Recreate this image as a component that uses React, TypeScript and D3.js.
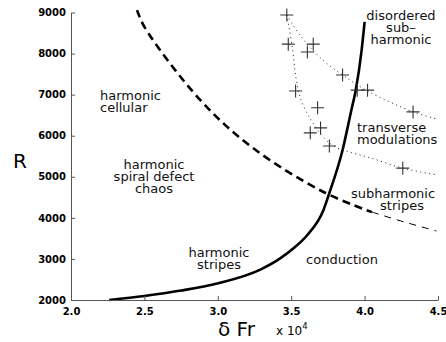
import React, { useEffect, useRef } from "react";
import * as d3 from "d3";

// phase boundaries (delta Fr in units of 1e4, R)
const onsetCurve: [number, number][] = [
  [2.26, 2000], [2.5, 2097], [2.75, 2230], [3.01, 2414], [3.29, 2740], [3.42, 3000],
  [3.52, 3270], [3.61, 3583], [3.72, 4192], [3.76, 4605], [3.85, 5653], [3.91, 6627],
  [3.94, 7114], [3.98, 8088], [4.0, 8770],
];
const dashedThick: [number, number][] = [
  [2.45, 9060], [2.5, 8650], [2.88, 6870], [3.24, 5700], [3.72, 4630], [4.05, 4140],
];
const dashedThin: [number, number][] = [
  [4.05, 4140], [4.27, 3900], [4.49, 3680],
];
const upperGuide: [number, number][] = [
  [3.47, 8940], [3.56, 8450], [3.7, 7890], [3.85, 7480], [4.02, 7090], [4.33, 6580], [4.49, 6410],
];
const lowerGuide: [number, number][] = [
  [3.47, 8940], [3.505, 8210], [3.533, 7410], [3.56, 6940], [3.608, 6550], [3.648, 6310],
  [3.717, 5970], [3.8, 5725], [3.9, 5600], [4.04, 5460], [4.26, 5210], [4.5, 5040],
];
// measured points (crosses)
const measured: [number, number][] = [
  [3.47, 8940], [3.48, 8230], [3.65, 8230], [3.61, 8040], [3.53, 7090], [3.85, 7480],
  [3.95, 7110], [4.02, 7110], [3.68, 6680], [3.7, 6190], [3.63, 6070], [3.76, 5750],
  [4.33, 6580], [4.26, 5210],
];
const xTicks = [2.0, 2.5, 3.0, 3.5, 4.0, 4.5];
const yTicks = [2000, 3000, 4000, 5000, 6000, 7000, 8000, 9000];

// region labels: [text lines, x, first baseline, anchor]
const regionLabels: [string[], number, number, string][] = [
  [["harmonic", "cellular"], 100, 99.5, "start"],
  [["harmonic", "spiral defect", "chaos"], 154, 169, "middle"],
  [["harmonic", "stripes"], 219, 256.5, "middle"],
  [["disordered", "sub\u2013", "harmonic"], 401, 20, "middle"],
  [["transverse", "modulations"], 357, 131.5, "start"],
  [["subharmonic"], 393, 198.3, "middle"],
  [["stripes"], 402, 210, "middle"],
  [["conduction"], 342, 264.3, "middle"],
];

const W = 446;
const H = 342;

const App = () => {
  const svgRef = useRef<SVGSVGElement>(null);

  useEffect(() => {
    const svg = d3.select(svgRef.current);
    svg.selectAll("*").remove();

    const x = d3.scaleLinear().domain([2.0, 4.5]).range([71, 438]);
    const y = d3.scaleLinear().domain([2000, 9000]).range([300, 12.5]);

    const line = d3
      .line<[number, number]>()
      .x((d) => x(d[0]))
      .y((d) => y(d[1]))
      .curve(d3.curveCatmullRom);

    // dotted guides through the crosses
    [upperGuide, lowerGuide].forEach((g) => {
      svg
        .append("path")
        .attr("d", line(g))
        .attr("fill", "none")
        .attr("stroke", "#222")
        .attr("stroke-width", 1)
        .attr("stroke-dasharray", "1 3.5");
    });

    svg
      .append("path")
      .attr("d", line(dashedThick))
      .attr("fill", "none")
      .attr("stroke", "#000")
      .attr("stroke-width", 2.6)
      .attr("stroke-dasharray", "8 5");

    svg
      .append("path")
      .attr("d", line(dashedThin))
      .attr("fill", "none")
      .attr("stroke", "#000")
      .attr("stroke-width", 1)
      .attr("stroke-dasharray", "7 6");

    svg
      .append("path")
      .attr("d", line.curve(d3.curveMonotoneX)(onsetCurve))
      .attr("fill", "none")
      .attr("stroke", "#000")
      .attr("stroke-width", 2.6);

    const s = 6.5;
    svg
      .append("g")
      .selectAll("path")
      .data(measured)
      .enter()
      .append("path")
      .attr("d", (d) => {
        const cx = x(d[0]);
        const cy = y(d[1]);
        return `M${cx - s},${cy}H${cx + s}M${cx},${cy - s}V${cy + s}`;
      })
      .attr("stroke", "#333")
      .attr("stroke-width", 1.1)
      .attr("fill", "none");

    // axes
    const xAxis = svg
      .append("g")
      .attr("transform", "translate(0,300)")
      .call(
        d3.axisBottom(x).tickValues(xTicks).tickFormat(d3.format(".1f")).tickSizeInner(-4).tickSizeOuter(0).tickPadding(8)
      );
    const yAxis = svg
      .append("g")
      .attr("transform", "translate(71,0)")
      .call(
        d3.axisLeft(y).tickValues(yTicks).tickFormat(d3.format("d")).tickSizeInner(-4).tickSizeOuter(0).tickPadding(5)
      );
    [xAxis, yAxis].forEach((a) => {
      a.select(".domain").attr("stroke", "#555");
      a.selectAll(".tick line").attr("stroke", "#555");
      a.selectAll("text")
        .attr("fill", "#000")
        .style("font-family", "DejaVu Sans")
        .style("font-weight", "bold")
        .style("font-size", "10px");
    });

    // region labels
    regionLabels.forEach(([lines, lx, ly, anchor]) => {
      const t = svg
        .append("text")
        .attr("text-anchor", anchor)
        .style("font-family", "DejaVu Sans")
        .style("font-size", "13px")
        .attr("fill", "#111");
      lines.forEach((ln, i) => {
        t.append("tspan").attr("x", lx).attr("y", ly + i * 12.1).text(ln);
      });
    });

    // axis titles
    svg
      .append("text")
      .attr("x", 20)
      .attr("y", 168)
      .attr("text-anchor", "middle")
      .style("font-family", "DejaVu Sans")
      .style("font-size", "20px")
      .text("R");

    svg
      .append("text")
      .attr("x", 218)
      .attr("y", 336)
      .style("font-family", "DejaVu Sans")
      .style("font-size", "20px")
      .text("\u03b4 Fr");

    const mult = svg
      .append("text")
      .attr("x", 276)
      .attr("y", 335)
      .style("font-family", "DejaVu Sans")
      .style("font-size", "12px");
    mult.append("tspan").text("x 10");
    mult.append("tspan").attr("dy", -6).style("font-size", "8.5px").text("4");
  }, []);

  return (
    <svg
      ref={svgRef}
      width={W}
      height={H}
      style={{ position: "absolute", left: 0, top: 0, background: "#fff" }}
    ></svg>
  );
};

export default App;
